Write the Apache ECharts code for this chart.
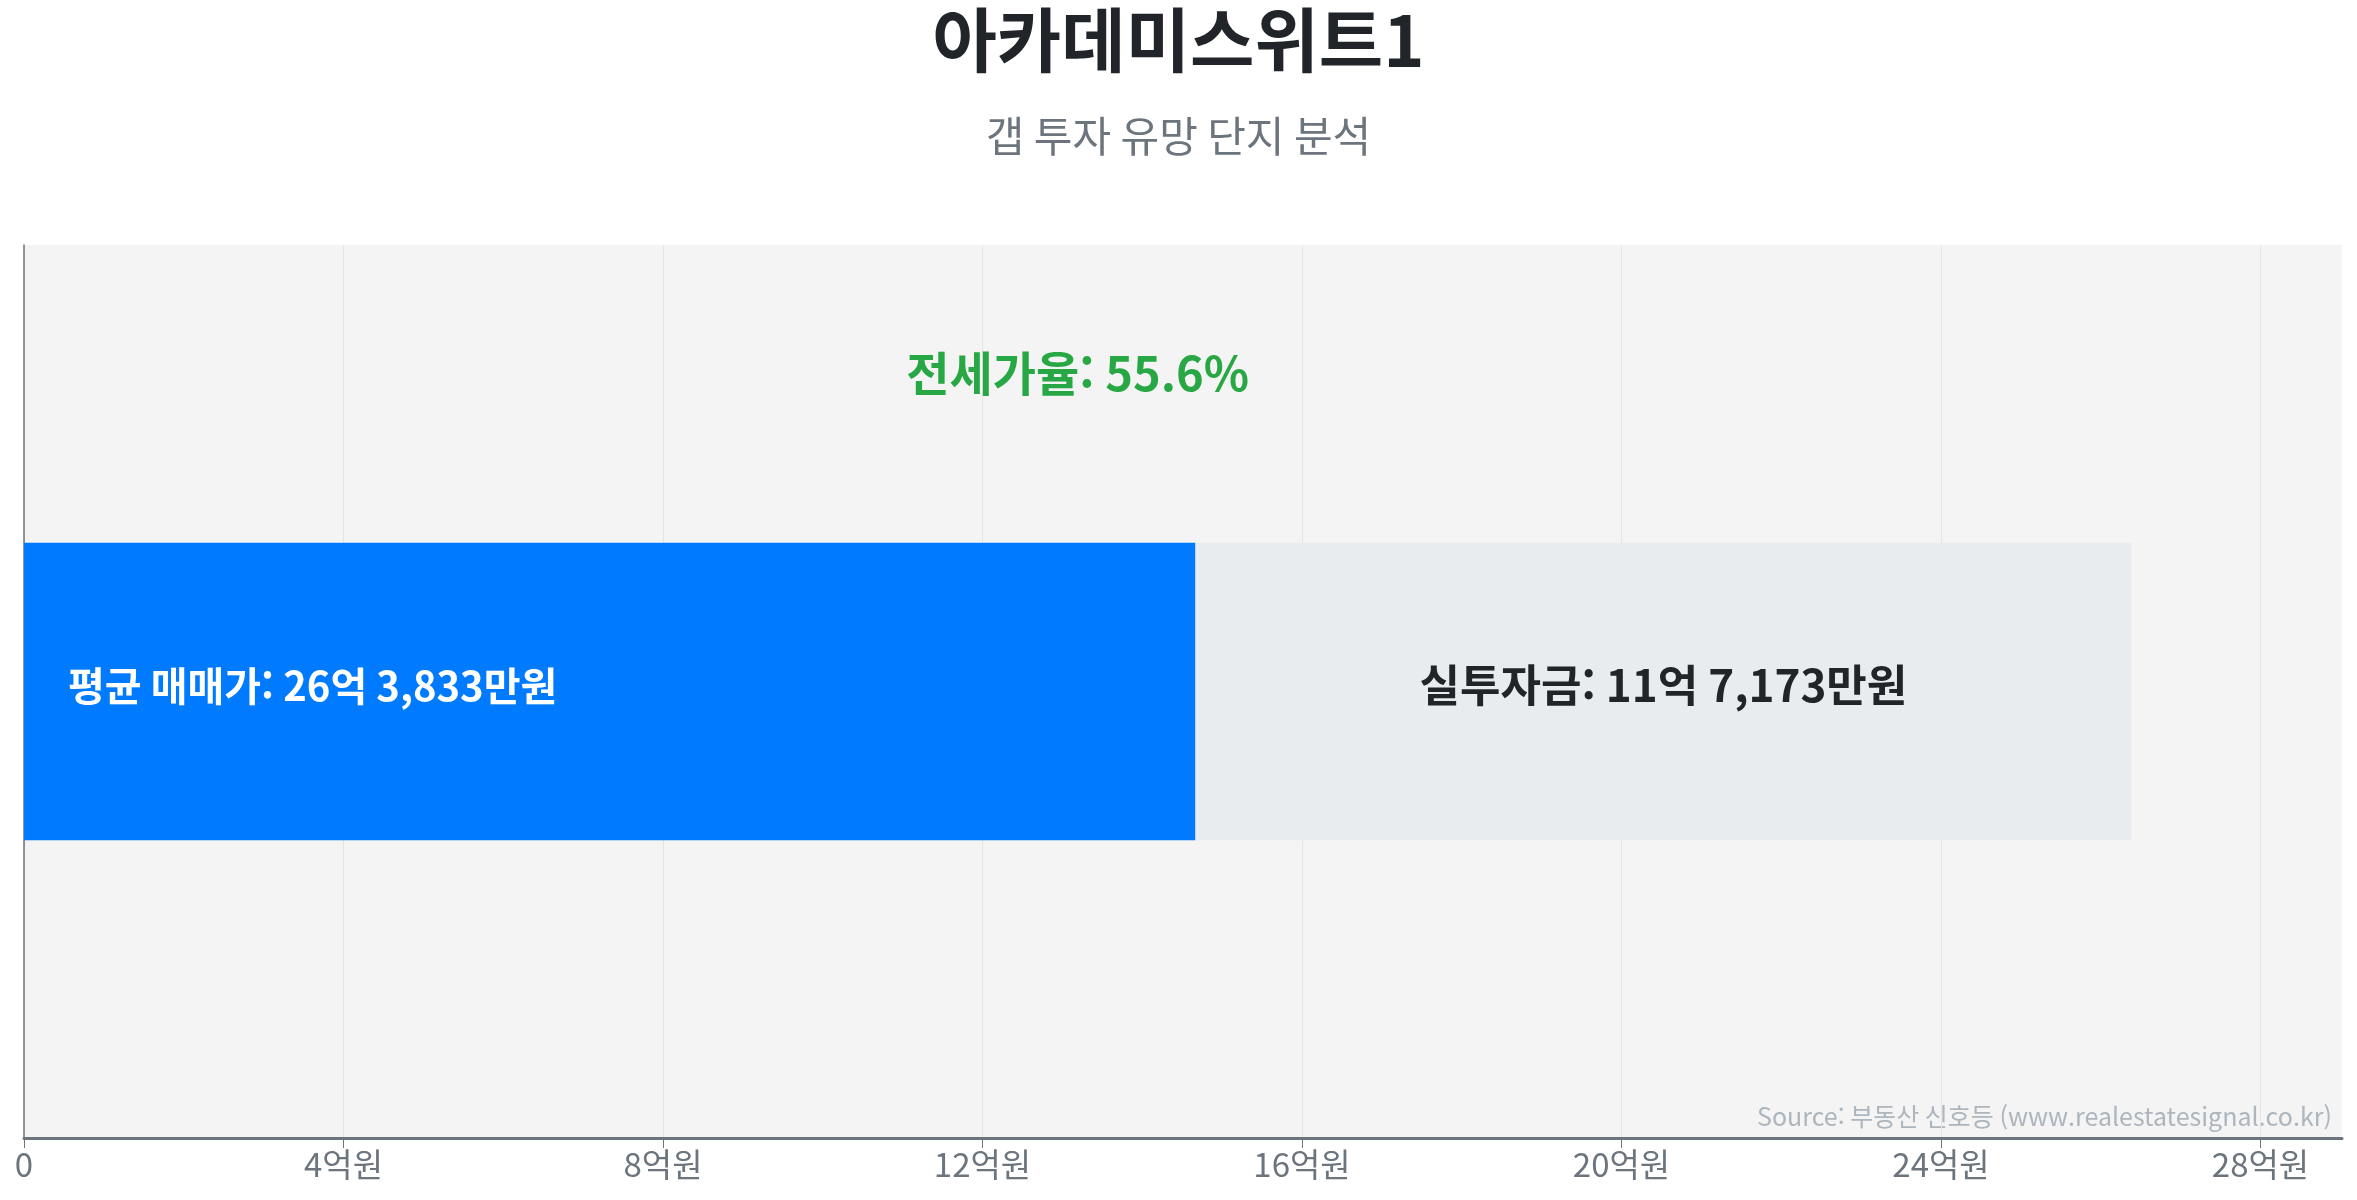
<!DOCTYPE html>
<html lang="ko">
<head>
<meta charset="UTF-8">
<title>아카데미스위트1</title>
<style>
  html, body {margin:0; padding:0; background:#fff}
  #chart {width:2357px; height:1200px}
</style>
<script src="https://cdn.jsdelivr.net/npm/echarts@6/dist/echarts.min.js"></script>
</head>
<body>
<div id="chart"></div>
<script>
// 단위: 억원
const categories = ['아카데미스위트1']
const salePrice = [26.3833]     // 평균 매매가
const jeonsePrice = [14.666]    // 전세가 (파란 막대)
const gapInvest = [11.7173]     // 실투자금 (회색 막대)
const jeonseRatio = [55.6]      // 전세가율 %
const xTicks = [0, 4, 8, 12, 16, 20, 24, 28]
const axisMax = 29.02

const font = '"Noto Sans CJK KR", "Noto Sans", sans-serif'

function toWon(v) {
    let eok = Math.floor(v)
    let man = Math.round((v - eok) * 10000)
    return eok + '억 ' + man.toLocaleString('en-US') + '만원'
}

let chart = echarts.init(document.getElementById('chart'))

let option = {
    textStyle: {fontFamily: font},
    title: [
        {
            text: categories[0],
            left: 'center',
            top: 0,
            textStyle: {fontSize: 70, fontWeight: 'bold', color: '#212529', fontFamily: font}
        },
        {
            text: '갭 투자 유망 단지 분석',
            left: 'center',
            top: 110,
            textStyle: {fontSize: 42, fontWeight: 'normal', color: '#6c757d', fontFamily: font}
        }
    ],
    grid: {
        left: 24, right: 15, top: 245, bottom: 62,
        show: true, backgroundColor: '#f4f4f4', borderWidth: 0
    },
    xAxis: {
        type: 'value',
        min: 0,
        max: axisMax,
        interval: 4,
        axisLine: {show: true, lineStyle: {color: '#6c757d', width: 3}},
        axisTick: {show: true, length: 10, customValues: xTicks, lineStyle: {color: '#6c757d', width: 1}},
        splitLine: {show: true, lineStyle: {color: '#e4e4e4', width: 1}},
        axisLabel: {
            fontSize: 33,
            color: '#6c757d',
            margin: 10,
            fontFamily: font,
            customValues: xTicks,
            formatter: v => v === 0 ? '0' : v + '억원'
        }
    },
    yAxis: {
        type: 'category',
        data: categories,
        axisLine: {show: true, lineStyle: {color: '#6c757d', width: 1.5}},
        axisTick: {show: false},
        axisLabel: {show: false},
        splitLine: {show: false}
    },
    series: [
        {
            name: '전세가',
            type: 'bar',
            stack: 'price',
            barWidth: '33.3%',
            data: jeonsePrice,
            itemStyle: {color: '#007bff'},
            label: {
                show: true,
                position: 'insideLeft',
                distance: 44,
                offset: [0, -6],
                color: '#fff',
                fontSize: 40,
                fontWeight: 'bold',
                fontFamily: font,
                formatter: () => '평균 매매가: ' + toWon(salePrice[0])
            }
        },
        {
            name: '실투자금',
            type: 'bar',
            stack: 'price',
            data: gapInvest,
            itemStyle: {color: '#e9ecef'},
            label: {
                show: true,
                position: 'inside',
                offset: [0, -6],
                color: '#212529',
                fontSize: 44,
                fontWeight: 'bold',
                fontFamily: font,
                formatter: p => '실투자금: ' + toWon(p.value)
            },
            markPoint: {
                symbol: 'circle',
                symbolSize: 0,
                silent: true,
                data: [{coord: [salePrice[0] / 2, categories[0]]}],
                label: {
                    show: true,
                    offset: [0, -318],
                    color: '#28a745',
                    fontSize: 47,
                    fontWeight: 'bold',
                    fontFamily: font,
                    formatter: () => '전세가율: ' + jeonseRatio[0] + '%'
                }
            }
        }
    ],
    graphic: [
        {
            type: 'text',
            right: 27,
            top: 1104,
            style: {
                text: 'Source: 부동산 신호등 (www.realestatesignal.co.kr)',
                fill: '#adb5bd',
                fontSize: 25,
                fontFamily: font
            }
        }
    ]
}

chart.setOption(option)
</script>
</body>
</html>
